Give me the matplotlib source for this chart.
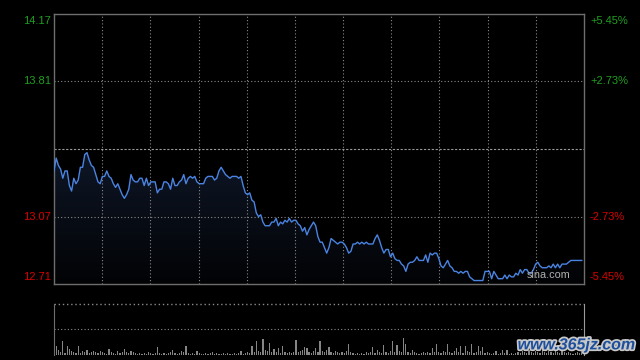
import matplotlib
matplotlib.use("Agg")
import matplotlib.pyplot as plt
import matplotlib.patheffects as pe
import numpy as np

# intraday data, one value per minute (9:30-11:30, 13:00-15:00)
PREV_CLOSE = 13.44
prices = [
    13.32, 13.39, 13.35, 13.33, 13.28, 13.32, 13.32, 13.24, 13.21, 13.28,
    13.25, 13.27, 13.34, 13.34, 13.41, 13.42, 13.38, 13.35, 13.34, 13.30,
    13.26, 13.25, 13.29, 13.29, 13.32, 13.29, 13.28, 13.25, 13.23, 13.25,
    13.22, 13.19, 13.17, 13.19, 13.22, 13.30, 13.27, 13.26, 13.26, 13.28,
    13.28, 13.24, 13.28, 13.24, 13.26, 13.26, 13.26, 13.20, 13.22, 13.22,
    13.26, 13.26, 13.25, 13.22, 13.28, 13.24, 13.24, 13.26, 13.27, 13.30,
    13.25, 13.28, 13.29, 13.28, 13.29, 13.26, 13.25, 13.25, 13.25, 13.28,
    13.29, 13.29, 13.29, 13.27, 13.28, 13.32, 13.34, 13.32, 13.30, 13.29,
    13.28, 13.29, 13.29, 13.29, 13.28, 13.29, 13.24, 13.20, 13.19, 13.20,
    13.16, 13.15, 13.09, 13.07, 13.08, 13.04, 13.02, 13.02, 13.02, 13.04,
    13.04, 13.06, 13.02, 13.04, 13.03, 13.05, 13.04, 13.06, 13.04, 13.05,
    13.05, 13.03, 13.02, 12.99, 13.01, 12.97, 13.00, 13.02, 13.04, 13.02,
    12.96, 12.93, 12.93, 12.90, 12.87, 12.90, 12.95, 12.94, 12.93, 12.92,
    12.93, 12.93, 12.92, 12.90, 12.87, 12.88, 12.92, 12.92, 12.93, 12.92,
    12.93, 12.92, 12.93, 12.92, 12.92, 12.92, 12.95, 12.97, 12.94, 12.90,
    12.87, 12.89, 12.89, 12.85, 12.87, 12.84, 12.83, 12.83, 12.81, 12.80,
    12.77, 12.81, 12.82, 12.82, 12.83, 12.85, 12.83, 12.83, 12.83, 12.86,
    12.82, 12.87, 12.86, 12.87, 12.87, 12.84, 12.80, 12.79, 12.81, 12.83,
    12.80, 12.79, 12.77, 12.77, 12.76, 12.77, 12.76, 12.77, 12.77, 12.74,
    12.73, 12.72, 12.72, 12.72, 12.72, 12.72, 12.77, 12.77, 12.77, 12.73,
    12.77, 12.75, 12.73, 12.73, 12.73, 12.75, 12.73, 12.75, 12.74, 12.74,
    12.76, 12.75, 12.78, 12.76, 12.78, 12.78, 12.76, 12.76, 12.78, 12.81,
    12.82, 12.80, 12.79, 12.79, 12.79, 12.80, 12.79, 12.81, 12.79, 12.81,
    12.79, 12.81, 12.81, 12.81, 12.82, 12.83, 12.83, 12.83, 12.83, 12.83,
    12.83,
]
volumes = [
    8, 9, 5, 3, 14, 2, 9, 6, 4, 3, 2, 9, 2, 4, 3, 5, 2, 3, 4, 3,
    2, 4, 3, 2, 1, 6, 3, 2, 1, 4, 2, 3, 6, 3, 2, 4, 3, 2, 1, 2,
    1, 2, 1, 3, 2, 1, 2, 8, 2, 1, 2, 1, 2, 3, 5, 2, 1, 2, 4, 3,
    9, 2, 1, 2, 1, 4, 2, 1, 1, 2, 1, 2, 3, 1, 2, 1, 1, 2, 1, 2,
    1, 1, 2, 1, 2, 4, 1, 2, 3, 2, 9, 3, 14, 4, 3, 16, 5, 4, 12, 3,
    6, 3, 7, 2, 9, 3, 2, 3, 2, 3, 15, 3, 4, 5, 8, 7, 3, 2, 4, 7,
    3, 14, 4, 3, 5, 8, 3, 2, 4, 3, 2, 3, 2, 4, 11, 3, 2, 1, 2, 1,
    2, 1, 3, 2, 3, 8, 2, 5, 3, 2, 10, 3, 2, 4, 14, 3, 10, 4, 3, 17,
    11, 3, 2, 5, 3, 2, 1, 2, 3, 2, 3, 2, 7, 3, 11, 3, 2, 4, 3, 11,
    3, 2, 4, 7, 3, 9, 2, 9, 4, 3, 11, 2, 3, 9, 4, 8, 2, 3, 2, 1,
    2, 4, 1, 2, 5, 2, 5, 1, 2, 1, 2, 3, 2, 4, 3, 2, 5, 3, 2, 4,
    3, 2, 6, 3, 2, 4, 3, 2, 5, 3, 2, 4, 3, 2, 3, 2, 1, 2, 3, 2, 4,
]
left_values = [14.17, 13.81, 13.07, 12.71]
left_labels = ["14.17", "13.81", "13.07", "12.71"]
right_labels = ["+5.45%", "+2.73%", "-2.73%", "-5.45%"]

UP = "#1f9f1f"
DOWN = "#d90000"
GRID = "#8a8a8a"
FRAME = "#6e6e6e"
plt.rcParams["font.family"] = ["Liberation Sans", "DejaVu Sans"]

minutes = np.arange(len(prices))
n_total = 241
half = 0.739

fig = plt.figure(figsize=(6.4, 3.6), dpi=100, facecolor="black")
ax = fig.add_axes([54 / 640, 1 - 284 / 360, 530 / 640, 270 / 360])
vax = fig.add_axes([54 / 640, 1 - 355 / 360, 530 / 640, 51 / 360])

# price panel
ax.set_facecolor("black")
ax.set_xlim(0, n_total)
ax.set_ylim(PREV_CLOSE - half, PREV_CLOSE + half)

fill = ax.fill_between(minutes, prices, PREV_CLOSE - half, color="none", lw=0)
grad = np.linspace(0, 1, 256).reshape(-1, 1)
img = ax.imshow(grad, cmap=matplotlib.colors.LinearSegmentedColormap.from_list(
    "g", ["#020305", "#0e1626"]), aspect="auto", origin="lower",
    extent=[0, n_total, PREV_CLOSE - half, max(prices)], zorder=1)
img.set_clip_path(fill.get_paths()[0], transform=ax.transData)

ax.plot(minutes, prices, color="#4a84e2", lw=1.0, zorder=3)

for k in range(1, 11):
    ax.axvline(k * n_total / 11, color=GRID, lw=0.8, ls=(0, (1, 2)), zorder=2)
for v in [left_values[1], left_values[2]]:
    ax.axhline(v, color=GRID, lw=0.8, ls=(0, (1, 2)), zorder=2)
ax.axhline(PREV_CLOSE, color="#9a9a9a", lw=0.8, ls=(0, (2, 1.5)), zorder=2)

ax.set_xticks([])
ax.set_yticks([])
for s in ax.spines.values():
    s.set_color(FRAME)
    s.set_linewidth(1.0)

vas = ["top", "center", "center", "bottom"]
for i, (v, lab, rlab) in enumerate(zip(left_values, left_labels, right_labels)):
    col = UP if v > PREV_CLOSE else DOWN
    ax.text(-3 / 530 * n_total, v, lab, color=col, fontsize=8,
            ha="right", va=vas[i], clip_on=False)
    ax.text(n_total + 6 / 530 * n_total, v, rlab, color=col, fontsize=8,
            ha="left", va=vas[i], clip_on=False)

ax.text(0.975, 0.015, "sina.com", color="#b0b0b0", fontsize=7.8,
        ha="right", va="bottom", transform=ax.transAxes, zorder=4)

# volume panel
vax.set_facecolor("black")
vax.bar(minutes, volumes, width=0.55, color="#858585", linewidth=0)
vax.set_xlim(0, n_total)
vax.set_ylim(0, 51)
vax.axhline(26, color=GRID, lw=0.8, ls=(0, (1, 2)))
vax.axhline(51, color=GRID, lw=1.0, ls=(0, (1, 2)), clip_on=False)
vax.set_xticks([])
vax.set_yticks([])
vax.spines["top"].set_visible(False)
vax.spines["bottom"].set_visible(False)
vax.spines["left"].set_color(FRAME)
vax.spines["right"].set_color("#9a9a9a")

fig.text(0.993, 0.042, "www.365jz.com", color="#1d4f9c", fontsize=11.5,
         fontweight="bold", style="italic", ha="right", va="center",
         path_effects=[pe.withStroke(linewidth=2.5, foreground="#c8c8c8")])

fig.savefig("out.png", dpi=100, facecolor="black")
